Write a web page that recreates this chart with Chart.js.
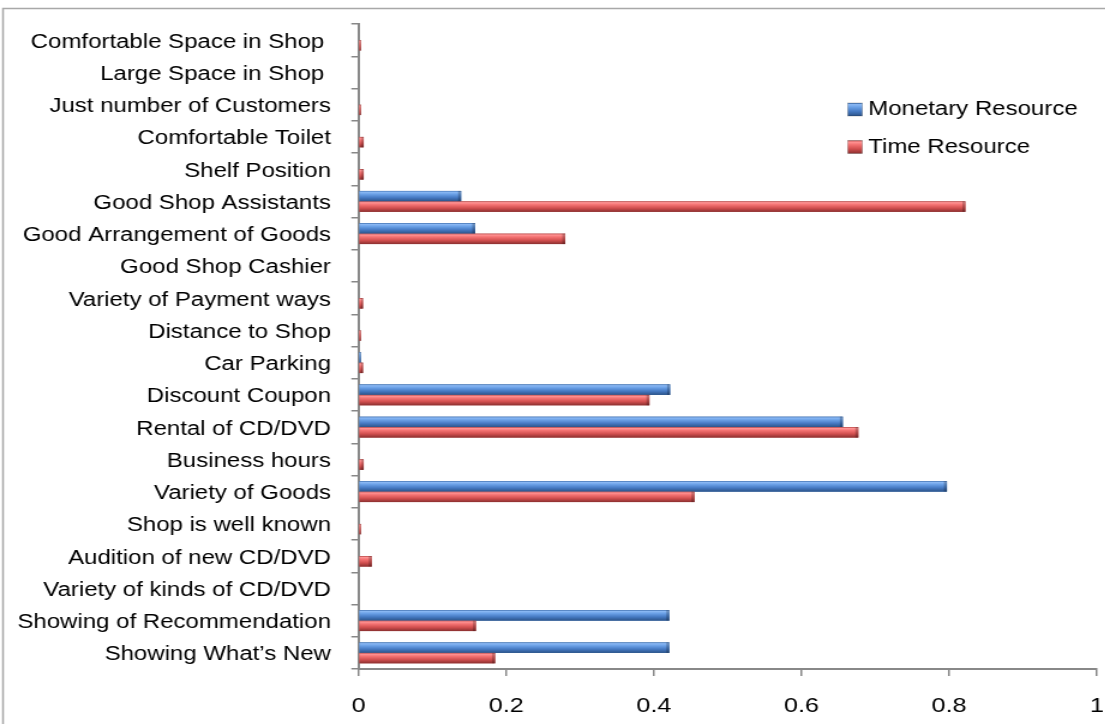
<!DOCTYPE html>
<html>
<head>
<meta charset="utf-8">
<title>Monetary and Time Resource by Shop Attribute</title>
<script src="https://cdn.jsdelivr.net/npm/chart.js@4/dist/chart.umd.min.js"></script>
<style>
  html, body { margin: 0; padding: 0; background: #fff; overflow: hidden; }
  #wrap { width: 1105px; height: 724px; overflow: hidden; position: relative; }
  /* the chart is drawn on a narrower canvas and widened, giving the wide Arial look */
  #chart { display: block; width: 921px; height: 724px; transform: scaleX(1.2); transform-origin: 0 0; }
</style>
</head>
<body>
<div id="wrap"><canvas id="chart" width="921" height="724"></canvas></div>
<script>
const categories = [
  'Comfortable Space in Shop ',
  'Large Space in Shop ',
  'Just number of Customers',
  'Comfortable Toilet',
  'Shelf Position',
  'Good Shop Assistants',
  'Good Arrangement of Goods',
  'Good Shop Cashier',
  'Variety of Payment ways',
  'Distance to Shop',
  'Car Parking',
  'Discount Coupon',
  'Rental of CD/DVD',
  'Business hours',
  'Variety of Goods',
  'Shop is well known',
  'Audition of new CD/DVD',
  'Variety of kinds of CD/DVD',
  'Showing of Recommendation',
  'Showing What\u2019s New'
];

const monetaryResource = [0, 0, 0, 0, 0, 0.139, 0.158, 0, 0, 0, 0.003, 0.422, 0.656, 0, 0.797, 0, 0, 0, 0.421, 0.421];
const timeResource     = [0.003, 0, 0.003, 0.007, 0.007, 0.822, 0.280, 0, 0.006, 0.003, 0.006, 0.394, 0.677, 0.007, 0.455, 0.003, 0.018, 0, 0.159, 0.185];

const xTickLabels = ['0', '0.2', '0.4', '0.6', '0.8', '1'];
const seriesNames = ['Monetary Resource', 'Time Resource'];

const FONT = "'Liberation Sans', Arial, sans-serif";

// cylinder-style shading for each series
const shades = {
  blue: [[0, '#3e70b2'], [0.12, '#8ab8f4'], [0.32, '#6aa0e6'], [0.65, '#4579c2'], [1, '#2c5388']],
  red:  [[0, '#b84444'], [0.12, '#ff9494'], [0.32, '#f47272'], [0.65, '#d04e4e'], [1, '#8a2f2f']]
};

function shadeGradient(ctx, top, h, stops) {
  const g = ctx.createLinearGradient(0, top, 0, top + h);
  stops.forEach(([p, c]) => g.addColorStop(p, c));
  return g;
}

const frame = {
  id: 'frame',
  beforeDraw(chart) {
    const ctx = chart.ctx;
    ctx.save();
    ctx.fillStyle = '#fff';
    ctx.fillRect(0, 0, chart.width, chart.height);
    ctx.strokeStyle = '#a8a8a8';
    ctx.lineWidth = 1.5;
    ctx.strokeRect(2.5, 8.5, chart.width + 20, chart.height + 20);
    ctx.restore();
  }
};

const shadedBars = {
  id: 'shadedBars',
  afterDatasetsDraw(chart) {
    const ctx = chart.ctx;
    ctx.save();
    chart.data.datasets.forEach((ds, di) => {
      const meta = chart.getDatasetMeta(di);
      const stops = ds.shade;
      meta.data.forEach(el => {
        const { x, y, base, height } = el.getProps(['x', 'y', 'base', 'height'], true);
        const left = Math.min(x, base);
        const w = Math.abs(x - base);
        if (w < 0.4) return;
        const top = y - height / 2;
        ctx.fillStyle = shadeGradient(ctx, top, height, stops);
        ctx.fillRect(left, top, w, height);
        // darker rounded end cap
        const cap = Math.min(2.5, w / 2);
        ctx.fillStyle = 'rgba(0,0,0,0.22)';
        ctx.fillRect(left + w - cap, top, cap, height);
      });
    });
    ctx.restore();
  }
};

const sideLegend = {
  id: 'sideLegend',
  afterDraw(chart) {
    const ctx = chart.ctx;
    ctx.save();
    const rows = [109.5, 147];
    chart.data.datasets.forEach((ds, i) => {
      const cy = rows[i];
      ctx.fillStyle = shadeGradient(ctx, cy - 6.5, 13, ds.shade);
      ctx.fillRect(706.5, cy - 6.5, 12, 13);
      ctx.strokeStyle = 'rgba(0,0,0,0.25)';
      ctx.lineWidth = 0.8;
      ctx.strokeRect(706.5, cy - 6.5, 12, 13);
      ctx.fillStyle = '#000';
      ctx.font = '20px ' + FONT;
      ctx.textBaseline = 'middle';
      ctx.textAlign = 'left';
      ctx.fillText(ds.label, 723.5, cy);
    });
    ctx.restore();
  }
};

new Chart(document.getElementById('chart'), {
  type: 'bar',
  data: {
    labels: categories,
    datasets: [
      { label: seriesNames[0], data: monetaryResource, backgroundColor: '#4f81bd', shade: shades.blue },
      { label: seriesNames[1], data: timeResource, backgroundColor: '#c0504d', shade: shades.red }
    ]
  },
  options: {
    indexAxis: 'y',
    responsive: false,
    animation: false,
    devicePixelRatio: 1,
    layout: { padding: { left: 0, right: 7, top: 24, bottom: 0 } },
    datasets: { bar: { categoryPercentage: 0.65, barPercentage: 1, borderWidth: 0 } },
    plugins: { legend: { display: false }, tooltip: { enabled: false } },
    scales: {
      x: {
        min: 0,
        max: 1,
        ticks: {
          stepSize: 0.2,
          color: '#000',
          font: { family: FONT, size: 21 },
          padding: 18,
          maxRotation: 0,
          callback: (v, i) => xTickLabels[i]
        },
        grid: { drawOnChartArea: false, drawTicks: true, tickLength: 7, color: '#888', lineWidth: 1.5 },
        border: { display: true, color: '#888', width: 2 },
        afterFit: s => { s.height = 55; s.paddingLeft = 0; s.paddingRight = 0; }
      },
      y: {
        ticks: { color: '#000', font: { family: FONT, size: 20 }, padding: 17, labelOffset: 2, autoSkip: false },
        grid: { offset: true, drawOnChartArea: false, drawTicks: true, tickLength: 6, color: '#888', lineWidth: 1.5 },
        border: { display: true, color: '#888', width: 2 },
        afterFit: s => { s.width = 298.75; s.paddingTop = 0; s.paddingBottom = 0; }
      }
    }
  },
  plugins: [frame, shadedBars, sideLegend]
});
</script>
</body>
</html>
